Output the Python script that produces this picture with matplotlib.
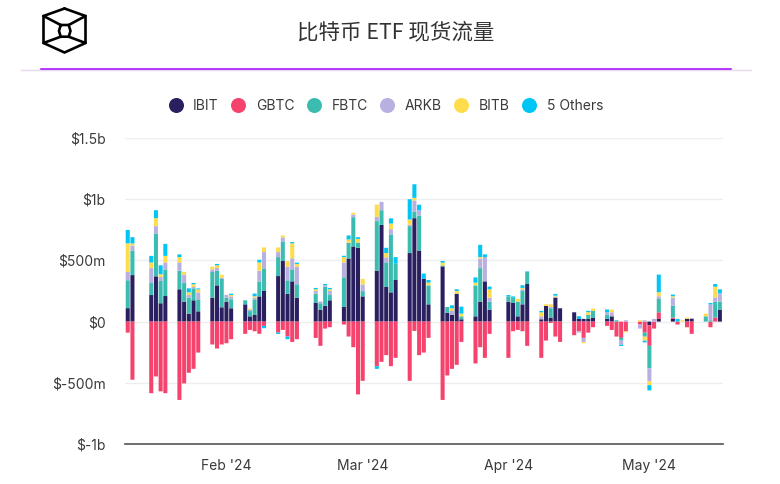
import numpy as np
import pandas as pd
import matplotlib
matplotlib.use("Agg")
import matplotlib.pyplot as plt
import matplotlib.dates as mdates
from matplotlib.lines import Line2D

plt.rcParams['font.family'] = ['Inter', 'Noto Sans CJK SC', 'DejaVu Sans']

TITLE = "比特币 ETF 现货流量"
names = ["IBIT", "GBTC", "FBTC", "ARKB", "BITB", "5 Others"]
colors = ["#2A2060", "#F5436D", "#3CBCB0", "#B8B0E0", "#FFDC4C", "#00C6F5"]
y_ticks = [-1000, -500, 0, 500, 1000, 1500]
y_labels = ["$-1b", "$-500m", "$0", "$500m", "$1b", "$1.5b"]
x_ticks = ["2024-02-01", "2024-03-01", "2024-04-01", "2024-05-01"]
x_labels = ["Feb '24", "Mar '24", "Apr '24", "May '24"]
holidays = ["2024-01-15", "2024-02-19", "2024-03-29"]

dates = pd.bdate_range("2024-01-11", "2024-05-16").difference(pd.to_datetime(holidays))

ibit = [110,380,217,370,150,209, 264,163,65,174,84, 196,296,117,163,109, 141,43,54,206,250,
        372,495,228,329,196, 152,98,130,174, 120,516,614,603,206, 416,790,283,239,340,
        560,845,581,350,141, 451,73,54,228,19, 43,163,329,98, 163,152,43,141,307,
        19,128,33,196,109, 76,22,22,22,33, 22,43,0,0,0, 0,0,-30,0,22, 22,0,0,22,22, 0,0,0,98]
gbtc = [-90,-475,-585,-448,-570,-585, -640,-505,-418,-386,-253, -187,-220,-187,-177,-144,
        -100,-68,-79,-100,-35, -90,-68,-122,-166,-144, -133,-198,-57,-46, -24,-122,-209,-595,-484,
        -364,-329,-274,-364,-296, -484,-76,-274,-253,-133, -640,-440,-386,-353,-166,
        -342,-209,-296,-100, -296,-79,-68,-79,-198, -296,-155,-11,-122,-166,
        -111,-79,-133,-90,-46, -35,-68,-122,-133,-79, -24,-90,-168,-57,54, 11,-24,0,-46,-100, 0,-46,33,0]
fbtc = [228,201,98,350,182,217, 152,152,130,98,98, 209,120,231,33,73, 33,43,128,122,185,
        155,160,109,98,109, 76,52,155,43, 242,128,239,43,43, 405,120,201,473,133,
        220,54,285,0,155, 8,46,0,0,24, 253,274,0,65, 43,43,120,109,98,
        0,0,76,0,0, 0,0,0,33,54, 33,0,11,-22,0, 0,-33,-185,0,109, 98,0,0,0,0, 43,11,130,65]
arkb = [68,41,122,60,33,57, 68,68,22,11,57, 22,22,11,22,24, 0,11,14,87,133,
        41,33,111,90,144, 22,14,11,33, 122,0,22,0,54, 35,68,41,43,0,
        11,90,43,0,0, 0,0,33,0,0, 0,79,198,33, 0,0,0,14,0,
        24,0,11,8,0, 0,-11,-33,0,0, 22,33,0,-33,11, -33,11,-103,22,22, 65,0,0,0,8, 0,130,35,68]
bitb = [234,16,46,65,22,54, 43,22,22,22,24, 22,22,24,0,11, 0,8,11,68,38,
        38,16,46,122,22, 14,0,0,14, 43,27,14,30,46, 100,0,35,46,0,
        43,22,0,0,22, 22,0,22,22,22, 22,11,0,68, 0,0,22,11,0,
        33,14,22,8,0, 0,0,-11,22,19, 0,22,0,0,-8, 11,-33,-33,0,33, 11,0,11,11,0, 22,0,87,0]
others = [109,52,54,65,73,98, 22,0,33,11,8, 0,11,0,0,11, 0,0,22,22,-19,
          -11,0,-22,11,11, 11,0,11,11, 11,33,0,14,0, -22,0,43,43,54,
          166,111,46,43,22, 14,0,24,14,57, 43,100,22,22, 11,11,0,22,5,
          11,0,0,14,0, 0,22,0,11,0, 22,0,0,-11,0, 0,-14,-43,0,144, 14,22,0,0,0, 0,11,22,33]
series = [ibit, gbtc, fbtc, arkb, bitb, others]

W, H = 780, 484
fig = plt.figure(figsize=(W / 100, H / 100), dpi=100, facecolor="white")
ax = fig.add_axes([125 / W, 1 - 444 / H, 598 / W, (444 - 138) / H])

pos = np.zeros(len(dates))
neg = np.zeros(len(dates))
xnum = mdates.date2num(dates)
for name, col, vals in zip(names, colors, series):
    v = np.array(vals, dtype=float)
    bottoms = np.where(v >= 0, pos, neg)
    bars = ax.bar(xnum, v, bottom=bottoms, width=0.86, color=col, linewidth=0, zorder=3, label=name)
    for b in bars:
        b.set_snap(False)
    pos += np.where(v >= 0, v, 0)
    neg += np.where(v < 0, v, 0)

ax.set_xlim(mdates.date2num(pd.Timestamp("2024-01-10 10:00")),
            mdates.date2num(pd.Timestamp("2024-05-16 16:00")))
ax.set_ylim(-1000, 1500)
ax.set_yticks(y_ticks, y_labels)
ax.set_xticks(mdates.date2num(pd.to_datetime(x_ticks)), x_labels)
ax.tick_params(axis="both", length=0, labelsize=10, labelcolor="#3A3A3A")
ax.tick_params(axis="y", pad=14)
ax.tick_params(axis="x", pad=10.5)
ax.grid(axis="y", color="#EDEEF0", linewidth=1, zorder=0)
ax.set_axisbelow(True)
for s in ["top", "left", "right"]:
    ax.spines[s].set_visible(False)
ax.spines["bottom"].set_color("#555555")
ax.spines["bottom"].set_linewidth(1.2)

handles = [Line2D([], [], marker="o", linestyle="none", markersize=10.8, markeredgewidth=0, color=c)
           for c in colors]
leg = fig.legend(handles, names, ncol=6, loc="center", bbox_to_anchor=(384.5 / W, 1 - 105.5 / H),
                 frameon=False, fontsize=10, handletextpad=0.57, columnspacing=0.7,
                 labelcolor="#3A3A3A", borderpad=0, handlelength=1.4)

# Header
fig.text(396 / W, 1 - 32 / H, TITLE, ha="center", va="center", fontsize=15.5, color="#333333",
         family=["Noto Sans CJK SC", "DejaVu Sans"], fontweight="light")
fig.add_artist(Line2D([21 / W, 751 / W], [1 - 69.5 / H] * 2, color="#E6D8EE", linewidth=1))
fig.add_artist(Line2D([41 / W, 731 / W], [1 - 68.5 / H] * 2, color="#A400FF", linewidth=1.1))


def logo_line(px, py):
    fig.add_artist(Line2D([p / W for p in px], [1 - p / H for p in py], color="black",
                          linewidth=1.9, solid_joinstyle="miter", solid_capstyle="round"))


logo_line([64.5, 85.5, 85.5, 64.5, 43.5, 43.5, 64.5], [8.5, 16, 43, 52.5, 43, 16, 8.5])
logo_line([60.7, 68.7, 70.5, 68.7, 60.7, 59, 60.7], [25, 25, 31, 36.7, 36.7, 31, 25])
logo_line([43.5, 60.7], [16, 25])
logo_line([85.5, 68.7], [16, 25])
logo_line([43.5, 60.7], [43, 36.7])
logo_line([85.5, 68.7], [43, 36.7])

fig.savefig("out.png", dpi=100, facecolor="white")
